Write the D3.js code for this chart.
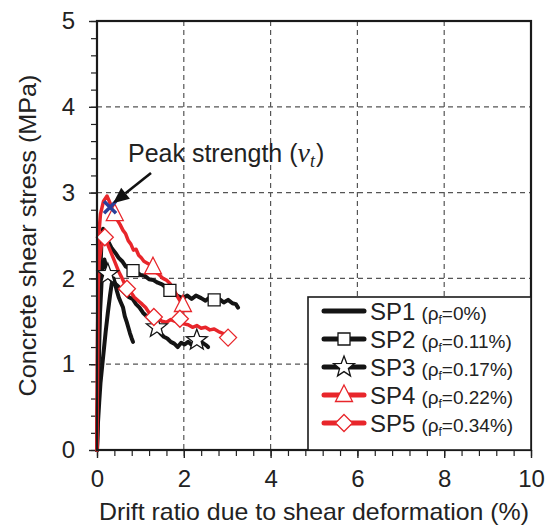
<!DOCTYPE html>
<html><head><meta charset="utf-8">
<script src="https://cdn.jsdelivr.net/npm/d3@7"></script>
<style>
html,body{margin:0;padding:0;background:#fff;}
svg{display:block;font-family:"Liberation Sans",Arial,sans-serif;}
</style></head>
<body><svg id="c" width="549" height="528"></svg>
<script>
// ---- data ----
const xTicks = [0, 2, 4, 6, 8, 10];
const yTicks = [0, 1, 2, 3, 4, 5];
const seriesNames = ["SP1", "SP2", "SP3", "SP4", "SP5"];
const seriesRho = ["0%", "0.11%", "0.17%", "0.22%", "0.34%"];

const sp1X = [0, 0.02, 0.05, 0.08, 0.12, 0.16, 0.2, 0.25, 0.3, 0.34, 0.38, 0.42, 0.46, 0.5, 0.55, 0.6, 0.64, 0.68, 0.72, 0.76, 0.8, 0.83];
const sp1Y = [0, 0.3, 0.55, 0.78, 0.98, 1.18, 1.38, 1.6, 1.8, 1.94, 2.0, 1.93, 1.85, 1.78, 1.72, 1.66, 1.56, 1.5, 1.43, 1.36, 1.3, 1.26];

const sp2X = [0, 0.03, 0.06, 0.1, 0.14, 0.2, 0.27, 0.34, 0.42, 0.5, 0.58, 0.66, 0.74, 0.83, 0.92, 1.0, 1.1, 1.2, 1.3, 1.4, 1.5, 1.6, 1.68, 1.78, 1.88, 1.98, 2.08, 2.18, 2.28, 2.4, 2.5, 2.6, 2.7, 2.82, 2.92, 3.02, 3.12, 3.2, 3.25];
const sp2Y = [0, 0.9, 1.8, 2.4, 2.58, 2.5, 2.42, 2.35, 2.3, 2.24, 2.2, 2.14, 2.12, 2.09, 2.07, 2.04, 2.03, 1.99, 1.98, 1.95, 1.93, 1.89, 1.86, 1.82, 1.79, 1.77, 1.8, 1.76, 1.8, 1.77, 1.74, 1.78, 1.75, 1.76, 1.72, 1.75, 1.71, 1.7, 1.66];
const sp2MX = [0.83, 1.68, 2.7];
const sp2MY = [2.09, 1.86, 1.75];

const sp3X = [0, 0.03, 0.07, 0.12, 0.17, 0.25, 0.33, 0.42, 0.5, 0.58, 0.66, 0.74, 0.82, 0.9, 0.98, 1.06, 1.14, 1.22, 1.3, 1.38, 1.46, 1.54, 1.62, 1.7, 1.78, 1.86, 1.94, 2.02, 2.1, 2.2, 2.3, 2.38, 2.46, 2.52, 2.56];
const sp3Y = [0, 0.8, 1.6, 2.1, 2.22, 2.05, 1.98, 1.94, 1.9, 1.86, 1.82, 1.78, 1.76, 1.7, 1.66, 1.6, 1.56, 1.52, 1.48, 1.43, 1.36, 1.32, 1.3, 1.26, 1.24, 1.2, 1.25, 1.23, 1.26, 1.22, 1.28, 1.26, 1.24, 1.22, 1.2];
const sp3MX = [0.25, 1.38, 2.3];
const sp3MY = [2.05, 1.43, 1.28];

const sp4X = [0, 0.01, 0.02, 0.04, 0.08, 0.15, 0.23, 0.3, 0.36, 0.41, 0.47, 0.53, 0.6, 0.66, 0.72, 0.78, 0.84, 0.9, 0.96, 1.02, 1.08, 1.15, 1.22, 1.29, 1.36, 1.44, 1.52, 1.6, 1.68, 1.76, 1.84, 1.9, 1.96, 2.0];
const sp4Y = [0, 1.0, 1.9, 2.5, 2.75, 2.9, 2.96, 2.88, 2.8, 2.75, 2.68, 2.63, 2.56, 2.52, 2.44, 2.4, 2.33, 2.34, 2.27, 2.24, 2.2, 2.18, 2.16, 2.13, 2.07, 2.04, 2.0, 1.98, 1.94, 1.88, 1.8, 1.75, 1.7, 1.66];
const sp4MX = [0.41, 1.29, 1.98];
const sp4MY = [2.75, 2.13, 1.69];

const sp5X = [0, 0.01, 0.02, 0.05, 0.1, 0.18, 0.26, 0.34, 0.42, 0.5, 0.58, 0.69, 0.78, 0.86, 0.95, 1.04, 1.12, 1.2, 1.31, 1.4, 1.5, 1.6, 1.7, 1.8, 1.91, 2.0, 2.1, 2.2, 2.3, 2.4, 2.5, 2.6, 2.7, 2.8, 2.9, 3.02];
const sp5Y = [0, 0.9, 1.8, 2.2, 2.38, 2.48, 2.38, 2.28, 2.18, 2.08, 2.0, 1.88, 1.84, 1.78, 1.74, 1.7, 1.66, 1.6, 1.55, 1.53, 1.5, 1.49, 1.52, 1.5, 1.53, 1.47, 1.46, 1.43, 1.45, 1.42, 1.43, 1.4, 1.41, 1.38, 1.36, 1.31];
const sp5MX = [0.18, 0.69, 1.31, 1.91, 3.02];
const sp5MY = [2.48, 1.88, 1.55, 1.53, 1.31];

const peakX = [0.3];
const peakY = [2.83];

// ---- layout ----
const svg = d3.select("#c");
const L = 97, R = 531, T = 21, B = 450;
const x = d3.scaleLinear().domain([0, 10]).range([L, R]);
const y = d3.scaleLinear().domain([0, 5]).range([B, T]);
const RED = "#e8262b", BLACK = "#141414", BLUE = "#2b3f99", TXT = "#222";

// grid
const g = svg.append("g");
g.selectAll(".gx").data(xTicks.filter(d => d > 0 && d < 10)).enter().append("line")
  .attr("x1", d => x(d)).attr("x2", d => x(d)).attr("y1", T).attr("y2", B)
  .attr("stroke", "#555").attr("stroke-width", 1.2).attr("stroke-dasharray", "5,4");
g.selectAll(".gy").data(yTicks.filter(d => d > 0 && d < 5)).enter().append("line")
  .attr("x1", L).attr("x2", R).attr("y1", d => y(d)).attr("y2", d => y(d))
  .attr("stroke", "#555").attr("stroke-width", 1.2).attr("stroke-dasharray", "5,4");

// axes
const xAxisMinor = d3.axisBottom(x).tickValues(d3.range(0, 10.01, 0.4)).tickSize(6).tickFormat("");
const yAxisMinor = d3.axisLeft(y).tickValues(d3.range(0, 5.01, 0.2)).tickSize(6).tickFormat("");
svg.append("g").attr("transform", `translate(0,${B})`).call(xAxisMinor)
  .call(s => { s.select(".domain").remove(); s.selectAll("line").attr("stroke", "#222").attr("stroke-width", 1.2); });
svg.append("g").attr("transform", `translate(${L},0)`).call(yAxisMinor)
  .call(s => { s.select(".domain").remove(); s.selectAll("line").attr("stroke", "#222").attr("stroke-width", 1.2); });
const xAxis = d3.axisBottom(x).tickValues(xTicks).tickSize(8).tickPadding(12).tickFormat(d3.format("d"));
const yAxis = d3.axisLeft(y).tickValues(yTicks).tickSize(8).tickPadding(14).tickFormat(d3.format("d"));
svg.append("g").attr("transform", `translate(0,${B})`).call(xAxis)
  .call(s => { s.select(".domain").remove(); s.selectAll("line").attr("stroke", "#222").attr("stroke-width", 1.4);
    s.selectAll("text").attr("font-size", 24).attr("fill", TXT).attr("font-family", "Liberation Sans, Arial"); });
svg.append("g").attr("transform", `translate(${L},0)`).call(yAxis)
  .call(s => { s.select(".domain").remove(); s.selectAll("line").attr("stroke", "#222").attr("stroke-width", 1.4);
    s.selectAll("text").attr("font-size", 24).attr("fill", TXT).attr("font-family", "Liberation Sans, Arial"); });

// curves
const line = d3.line().x(d => x(d[0])).y(d => y(d[1]));
const zip = (a, b) => a.map((v, i) => [v, b[i]]);
const curves = [
  { X: sp1X, Y: sp1Y, c: BLACK, w: 4 },
  { X: sp2X, Y: sp2Y, c: BLACK, w: 4 },
  { X: sp3X, Y: sp3Y, c: BLACK, w: 4 },
  { X: sp4X, Y: sp4Y, c: RED, w: 3.5 },
  { X: sp5X, Y: sp5Y, c: RED, w: 3.5 }
];
const plot = svg.append("g");
curves.forEach(cv => {
  plot.append("path").datum(zip(cv.X, cv.Y)).attr("d", line)
    .attr("fill", "none").attr("stroke", cv.c).attr("stroke-width", cv.w)
    .attr("stroke-linejoin", "round").attr("stroke-linecap", "round");
});

// marker shapes
function starPath(ro, ri) {
  const pts = [];
  for (let i = 0; i < 10; i++) {
    const r = i % 2 ? ri : ro, a = -Math.PI / 2 + i * Math.PI / 5;
    pts.push([r * Math.cos(a), r * Math.sin(a)]);
  }
  return "M" + pts.map(p => p.join(",")).join("L") + "Z";
}
const shapes = {
  square: "M-6,-6L6,-6L6,6L-6,6Z",
  star: starPath(11, 4.6),
  tri: "M0,-10L8.5,6.5L-8.5,6.5Z",
  diamond: "M0,-8.5L8.5,0L0,8.5L-8.5,0Z"
};
function markers(X, Y, shape, col) {
  plot.selectAll(null).data(zip(X, Y)).enter().append("path")
    .attr("d", shapes[shape]).attr("transform", d => `translate(${x(d[0])},${y(d[1])})`)
    .attr("fill", "#fff").attr("stroke", col).attr("stroke-width", 1.3);
}
markers(sp2MX, sp2MY, "square", BLACK);
markers(sp3MX, sp3MY, "star", BLACK);
markers(sp4MX, sp4MY, "tri", RED);
markers(sp5MX, sp5MY, "diamond", RED);

// peak X
plot.selectAll(null).data(zip(peakX, peakY)).enter().append("path")
  .attr("d", "M-6,-6L6,6M-6,6L6,-6")
  .attr("transform", d => `translate(${x(d[0])},${y(d[1])})`)
  .attr("stroke", BLUE).attr("stroke-width", 3.5).attr("fill", "none");

// frame
svg.append("rect").attr("x", L).attr("y", T).attr("width", R - L).attr("height", B - T)
  .attr("fill", "none").attr("stroke", "#1a1a1a").attr("stroke-width", 2.2);

// annotation
const tipX = x(peakX[0]) + 3, tipY = y(peakY[0]) - 4;
const startX = 151, startY = 173;
const ang = Math.atan2(tipY - startY, tipX - startX);
const hl = 16, hw = 7;
const bx = tipX - hl * Math.cos(ang), by = tipY - hl * Math.sin(ang);
svg.append("line").attr("x1", startX).attr("y1", startY).attr("x2", bx).attr("y2", by)
  .attr("stroke", "#111").attr("stroke-width", 2.6);
svg.append("path").attr("d",
  `M${tipX},${tipY}L${bx + hw * Math.sin(ang)},${by - hw * Math.cos(ang)}L${bx - hw * Math.sin(ang)},${by + hw * Math.cos(ang)}Z`)
  .attr("fill", "#111");
const ann = svg.append("text").attr("x", 128).attr("y", 162).attr("font-size", 25).attr("fill", TXT);
ann.append("tspan").text("Peak strength (");
ann.append("tspan").attr("font-family", "Liberation Serif, Times New Roman, serif").attr("font-style", "italic").attr("font-size", 28).text("v");
ann.append("tspan").attr("font-family", "Liberation Serif, Times New Roman, serif").attr("font-style", "italic").attr("font-size", 18).attr("dy", 5).text("t");
ann.append("tspan").attr("dy", -5).attr("dx", 1).text(")");

// axis titles
svg.append("text").attr("x", (L + R) / 2).attr("y", 520).attr("text-anchor", "middle")
  .attr("font-size", 24).attr("fill", TXT).attr("textLength", 430).attr("lengthAdjust", "spacingAndGlyphs")
  .text("Drift ratio due to shear deformation (%)");
svg.append("text").attr("transform", `translate(36,${(T + B) / 2}) rotate(-90)`).attr("text-anchor", "middle")
  .attr("font-size", 24).attr("fill", TXT).attr("textLength", 322).attr("lengthAdjust", "spacingAndGlyphs")
  .text("Concrete shear stress (MPa)");

// legend
const lg = svg.append("g");
lg.append("rect").attr("x", 308).attr("y", 297).attr("width", R - 308).attr("height", B - 297)
  .attr("fill", "#fff").attr("stroke", "#1a1a1a").attr("stroke-width", 1.6);
const legShapes = [null, "square", "star", "tri", "diamond"];
const legCols = [BLACK, BLACK, BLACK, RED, RED];
seriesNames.forEach((nm, i) => {
  const ry = 311 + i * 28;
  lg.append("line").attr("x1", 324).attr("x2", 364).attr("y1", ry).attr("y2", ry)
    .attr("stroke", legCols[i]).attr("stroke-width", 5).attr("stroke-linecap", "round");
  if (legShapes[i]) lg.append("path").attr("d", shapes[legShapes[i]]).attr("transform", `translate(344,${ry})`)
    .attr("fill", "#fff").attr("stroke", legCols[i]).attr("stroke-width", 1.3);
  const t = lg.append("text").attr("x", 370).attr("y", ry + 9).attr("fill", TXT);
  t.append("tspan").attr("font-size", 24).text(nm);
  t.append("tspan").attr("font-size", 19).attr("dx", 6).text("(ρ");
  t.append("tspan").attr("font-size", 12).attr("dy", 4).text("f");
  t.append("tspan").attr("font-size", 19).attr("dy", -4).text("=" + seriesRho[i] + ")");
});
</script></body></html>
